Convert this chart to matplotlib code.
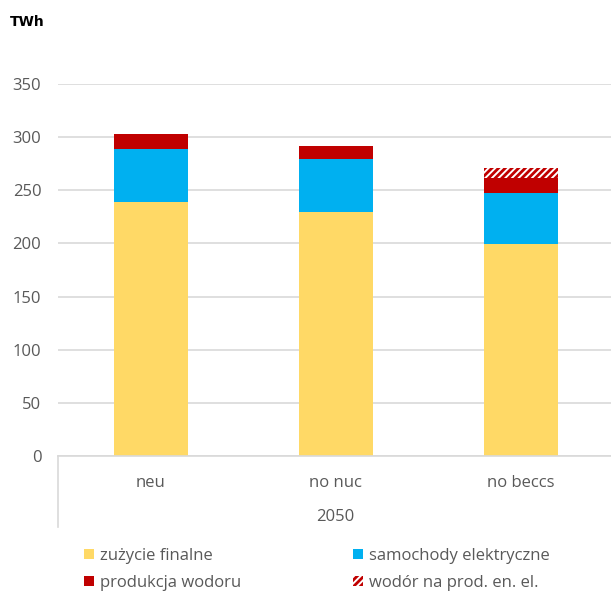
import matplotlib
matplotlib.use('Agg')
from matplotlib import pyplot as plt
from matplotlib.patches import Patch
import matplotlib.transforms as mtransforms
import numpy as np

# Data (TWh)
scenarios = ['neu', 'no nuc', 'no beccs']
zuzycie = [239, 230, 199]
samochody = [50, 49, 48]
produkcja = [14, 13, 15]
wodor_el = [0, 0, 9]

labels = ['zużycie finalne', 'samochody elektryczne', 'produkcja wodoru', 'wodór na prod. en. el.']

plt.rcParams['font.family'] = ['Open Sans', 'DejaVu Sans']
plt.rcParams['hatch.color'] = '#C00000'
plt.rcParams['hatch.linewidth'] = 2.0

yellow = '#FFD966'
blue = '#00B0F0'
red = '#C00000'
grey = '#595959'
fs = 12

fig = plt.figure(figsize=(6.11, 5.94), dpi=100)
ax = fig.add_axes([58 / 611, 1 - 456 / 594, 555 / 611, 372 / 594])

x = np.arange(len(scenarios))
w = 0.4
b1 = np.array(zuzycie)
b2 = b1 + np.array(samochody)
b3 = b2 + np.array(produkcja)

ax.bar(x, zuzycie, w, color=yellow, zorder=2)
ax.bar(x, samochody, w, bottom=b1, color=blue, zorder=2)
ax.bar(x, produkcja, w, bottom=b2, color=red, zorder=2)
ax.bar(x, wodor_el, w, bottom=b3, facecolor='white', edgecolor=red,
       hatch='/////', linewidth=0, zorder=2)

ax.set_xlim(-0.5, 2.5)
ax.set_ylim(0, 350)
ax.set_yticks(range(0, 351, 50))
ax.yaxis.grid(True, color='#D9D9D9', linewidth=1.2, zorder=0)
ax.set_axisbelow(True)
for s in ['left', 'right', 'top']:
    ax.spines[s].set_visible(False)
ax.spines['bottom'].set_color('#D9D9D9')
ax.spines['bottom'].set_linewidth(1.2)

ax.set_xticks(x)
ax.set_xticklabels(scenarios)
ax.tick_params(axis='x', length=0, pad=14, labelsize=fs, labelcolor=grey)
ax.tick_params(axis='y', length=0, pad=12, labelsize=fs, labelcolor=grey)

# second level of category axis
trans = mtransforms.blended_transform_factory(ax.transData, ax.transAxes)
ax.text(1, -61 / 372, '2050', transform=trans,
        ha='center', va='center', fontsize=fs, color=grey)
ax.plot([0, 0], [0, -71 / 372], transform=ax.transAxes, color='#D9D9D9',
        linewidth=1.2, clip_on=False)

fig.text(10 / 611, 1 - 22 / 594, 'TWh', fontsize=10, fontweight='bold',
         family='DejaVu Sans', va='center', ha='left')

handles = [Patch(facecolor=yellow), Patch(facecolor=red),
           Patch(facecolor=blue),
           Patch(facecolor='white', edgecolor=red, hatch='/////', linewidth=0)]
leg_labels = [labels[0], labels[2], labels[1], labels[3]]
fig.legend(handles, leg_labels, ncol=2, loc='upper left',
           bbox_to_anchor=(84 / 611, 1 - 548 / 594), frameon=False,
           fontsize=fs, labelcolor=grey, handlelength=0.6, handleheight=0.6,
           handletextpad=0.35, columnspacing=6.75, labelspacing=0.65,
           borderpad=0, borderaxespad=0)

fig.savefig('out.png', dpi=100)
